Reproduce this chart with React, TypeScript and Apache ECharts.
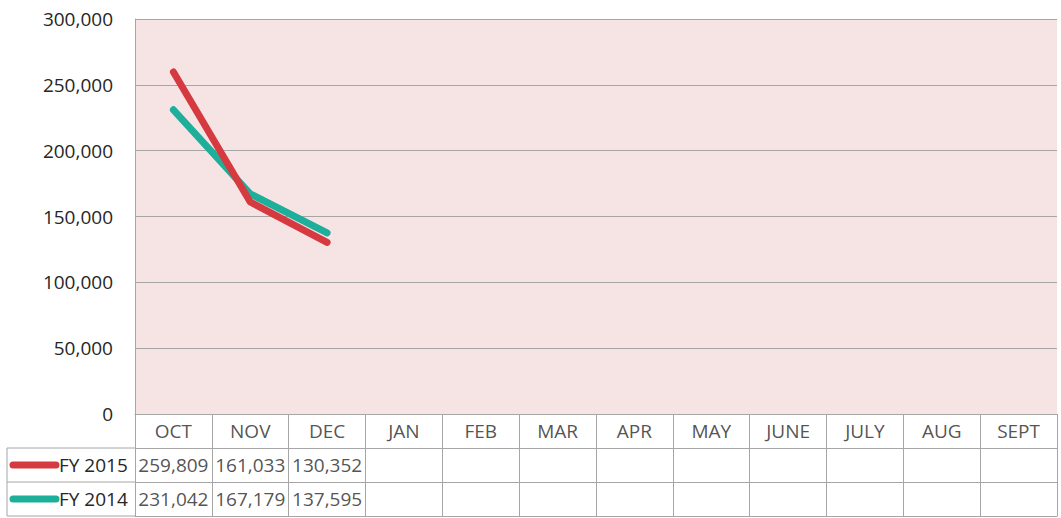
import React, { useEffect, useRef } from "react";
import * as echarts from "echarts";

const months = ["OCT", "NOV", "DEC", "JAN", "FEB", "MAR", "APR", "MAY", "JUNE", "JULY", "AUG", "SEPT"];
const seriesNames = ["FY 2015", "FY 2014"];
const fy2015 = [259809, 161033, 130352];
const fy2014 = [231042, 167179, 137595];
const yTicks = [0, 50000, 100000, 150000, 200000, 250000, 300000];
const colors = ["#D63A41", "#1EAF9A"];

const FONT = "Open Sans";
const TEXT = "#262626";
const GRIDC = "#A6A6A6";
const FS = 19;

const fmt = (v: number) => v.toLocaleString("en-US");

export default function App() {
  const ref = useRef<HTMLDivElement>(null);
  useEffect(() => {
    document.body.style.margin = "0";
    const chart = echarts.init(ref.current!, null, { renderer: "svg" });
    const rows = ["head", ...seriesNames];
    const cellData: any[] = [];
    months.forEach((m) => cellData.push({ value: [m, "head"], txt: m }));
    [fy2015, fy2014].forEach((arr, si) =>
      arr.forEach((v, i) => cellData.push({ value: [months[i], seriesNames[si]], txt: fmt(v) }))
    );
    const L = 135, R = 1057, T = 19, B = 414, TB = 516;
    const rowH = (TB - B) / 3;
    const graphics: any[] = [];
    [1, 2, 3].forEach((k) => {
      graphics.push({
        type: "line",
        shape: { x1: 7, y1: B + rowH * k, x2: L, y2: B + rowH * k },
        style: { stroke: GRIDC, lineWidth: 1 },
      });
    });
    graphics.push({
      type: "line",
      shape: { x1: 7, y1: B + rowH, x2: 7, y2: TB },
      style: { stroke: GRIDC, lineWidth: 1 },
    });
    seriesNames.forEach((n, i) => {
      const cy = B + rowH * (1.5 + i);
      graphics.push({
        type: "line",
        shape: { x1: 13, y1: cy, x2: 56, y2: cy },
        style: { stroke: colors[i], lineWidth: 7, lineCap: "round" },
      });
      graphics.push({
        type: "text",
        x: 59,
        y: cy,
        style: { text: n, fill: TEXT, font: `${FS}px "${FONT}"`, textVerticalAlign: "middle", textAlign: "left" },
      });
    });

    chart.setOption({
      animation: false,
      backgroundColor: "#ffffff",
      grid: [
        { left: L, top: T, width: R - L, height: B - T, show: true, backgroundColor: "#F6E4E4", borderWidth: 0 },
        { left: L, top: B, width: R - L, height: TB - B, show: false },
      ],
      xAxis: [
        {
          type: "category",
          gridIndex: 0,
          data: months,
          boundaryGap: true,
          axisLine: { show: true, lineStyle: { color: GRIDC } },
          axisTick: { show: false },
          axisLabel: { show: false },
          splitLine: { show: false },
        },
        {
          type: "category",
          gridIndex: 1,
          data: months,
          boundaryGap: true,
          position: "bottom",
          axisLine: { show: true, lineStyle: { color: GRIDC } },
          axisTick: { show: false },
          axisLabel: { show: false },
          splitLine: { show: true, lineStyle: { color: GRIDC, width: 1 } },
        },
      ],
      yAxis: [
        {
          type: "value",
          gridIndex: 0,
          min: yTicks[0],
          max: yTicks[yTicks.length - 1],
          interval: 50000,
          axisLine: { show: true, lineStyle: { color: GRIDC } },
          axisTick: { show: false },
          axisLabel: {
            formatter: (v: number) => fmt(v),
            fontFamily: FONT,
            fontSize: FS,
            color: TEXT,
            margin: 22,
          },
          splitLine: { show: true, lineStyle: { color: GRIDC, width: 1 } },
        },
        {
          type: "category",
          gridIndex: 1,
          data: rows,
          inverse: true,
          boundaryGap: true,
          axisLine: { show: true, lineStyle: { color: GRIDC } },
          axisTick: { show: false },
          axisLabel: { show: false },
          splitLine: { show: true, lineStyle: { color: GRIDC, width: 1 } },
        },
      ],
      series: [
        ...[fy2015, fy2014].map((d, i) => ({
          type: "line",
          name: seriesNames[i],
          xAxisIndex: 0,
          yAxisIndex: 0,
          data: d,
          showSymbol: false,
          symbol: "none",
          lineStyle: { color: colors[i], width: 7, cap: "round", join: "round" },
          itemStyle: { color: colors[i] },
          z: 3 - i,
        })),
        {
          type: "scatter",
          xAxisIndex: 1,
          yAxisIndex: 1,
          symbolSize: 0,
          data: cellData,
          label: {
            show: true,
            position: "inside",
            formatter: (p: any) => p.data.txt,
            fontFamily: FONT,
            fontSize: FS,
            color: TEXT,
          },
        },
      ],
      graphic: graphics,
    });
    return () => chart.dispose();
  }, []);
  return <div ref={ref} style={{ width: 1061, height: 518 }} />;
}
